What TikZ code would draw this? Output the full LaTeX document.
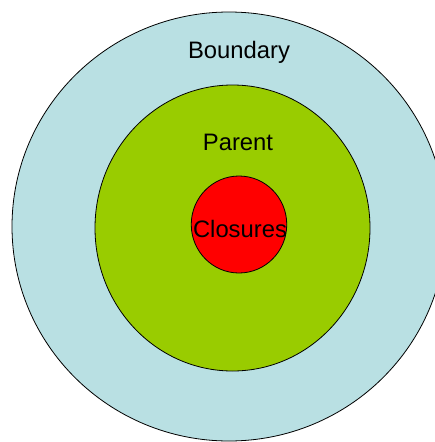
\documentclass[tikz,border=0pt]{standalone}
\usepackage{fontspec}
\setmainfont{Liberation Sans}
\usepackage{tikz}
\usetikzlibrary{shapes.geometric}

\definecolor{boundaryblue}{RGB}{185,224,227}
\definecolor{parentgreen}{RGB}{153,204,0}
\definecolor{closurered}{RGB}{255,0,0}

\begin{document}
\begin{tikzpicture}[x=1pt, y=-1pt,
  ring/.style={draw, ellipse, line width=0.8pt, inner sep=0pt},
  lbl/.style={anchor=base, inner sep=0pt, font=\fontsize{23.8}{28}\selectfont}]

\useasboundingbox (0,0) rectangle (435,442);
\clip (0,0) rectangle (435,442);

% rings
\node[ring, fill=boundaryblue, minimum width=434pt, minimum height=429pt] (boundary) at (229,226.5) {};
\node[ring, fill=parentgreen, minimum width=275pt, minimum height=286pt] (parent) at (232.5,228) {};
\node[ring, fill=closurered, minimum width=95.5pt, minimum height=97pt] (closures) at (239,224.5) {};

% labels
\node[lbl] (boundarytext) at (239,58) {Boundary};
\node[lbl] (parenttext) at (238,150) {Parent};
\node[lbl] (closurestext) at (240,237) {Closures};

\end{tikzpicture}
\end{document}
